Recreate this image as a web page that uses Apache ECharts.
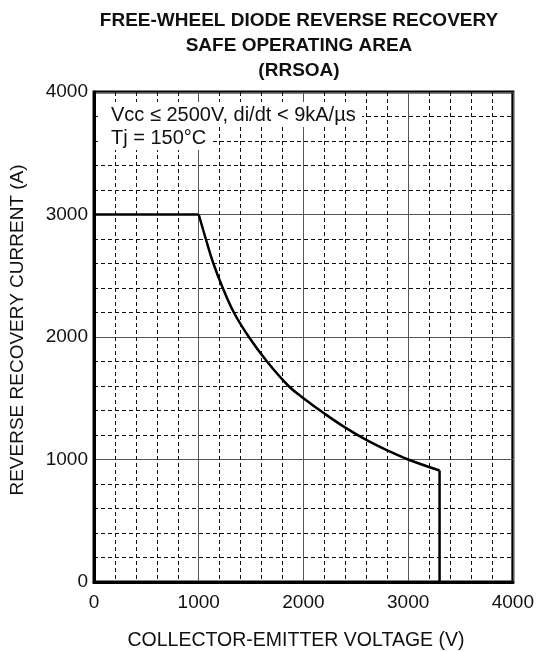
<!DOCTYPE html>
<html>
<head>
<meta charset="utf-8">
<script src="https://cdn.jsdelivr.net/npm/echarts@6/dist/echarts.min.js"></script>
<style>
  html, body { margin: 0; padding: 0; background: #fff; overflow: hidden; }
  #chart { width: 537px; height: 652px; }
</style>
</head>
<body>
<div id="chart"></div>
<script>
// Reverse recovery SOA boundary: collector-emitter voltage (V) vs. reverse recovery current (A)
// Flat current limit segment
const flatVoltage = [0, 1000];
const flatCurrent = [3000, 3000];
// Power-limited curved segment
const curveVoltage = [1000, 1068, 1140, 1230, 1336, 1479, 1652, 1858, 2000, 2200, 2400, 2600, 2800, 3000, 3300];
const curveCurrent = [3000, 2800, 2600, 2400, 2200, 2000, 1800, 1600, 1500, 1375, 1260, 1160, 1075, 1000, 910];
// Voltage limit edge
const edgeVoltage = [3300, 3300];
const edgeCurrent = [910, 0];

const xTicks = [0, 1000, 2000, 3000, 4000];
const yTicks = [0, 1000, 2000, 3000, 4000];

const font = '"Liberation Sans", Arial, Helvetica, sans-serif';

const chart = echarts.init(document.getElementById('chart'), null, { renderer: 'canvas' });

const axisCommon = {
  min: 0,
  max: 4000,
  interval: 1000,
  axisTick: { show: false },
  axisLine: { show: true, lineStyle: { color: '#000', width: 3 } },
  splitLine: { show: true, lineStyle: { color: '#555', width: 1, type: 'solid' } },
  minorTick: { show: false, splitNumber: 5 },
  minorSplitLine: { show: true, lineStyle: { color: '#111', width: 1, type: [4, 3] } },
  axisLabel: { fontFamily: font, fontSize: 19, color: '#111' }
};

const pairs = (xs, ys) => xs.map((v, i) => [v, ys[i]]);
const boundaryLine = { color: '#000', width: 2.5 };

chart.setOption({
  animation: false,
  backgroundColor: '#fff',
  title: {
    text: 'FREE-WHEEL DIODE REVERSE RECOVERY\nSAFE OPERATING AREA\n(RRSOA)',
    left: 294,
    top: 3,
    textAlign: 'center',
    textStyle: { fontFamily: font, fontSize: 19, fontWeight: 'bold', color: '#111', lineHeight: 25 }
  },
  grid: {
    left: 94, right: 21, top: 92, bottom: 70,
    show: true, borderColor: '#000', borderWidth: 3, backgroundColor: 'transparent'
  },
  xAxis: Object.assign({}, axisCommon, {
    type: 'value',
    axisLabel: Object.assign({}, axisCommon.axisLabel, {
      margin: 11,
      formatter: v => xTicks.includes(v) ? String(v) : ''
    })
  }),
  yAxis: Object.assign({}, axisCommon, {
    type: 'value',
    axisLabel: Object.assign({}, axisCommon.axisLabel, {
      margin: 6,
      formatter: v => yTicks.includes(v) ? String(v) : ''
    })
  }),
  series: [
    { type: 'line', data: pairs(flatVoltage, flatCurrent), symbol: 'none', lineStyle: boundaryLine, z: 5 },
    { type: 'line', data: pairs(curveVoltage, curveCurrent), symbol: 'none', smooth: 0.4, lineStyle: boundaryLine, z: 5 },
    { type: 'line', data: pairs(edgeVoltage, edgeCurrent), symbol: 'none', lineStyle: boundaryLine, z: 5 }
  ],
  graphic: [
    // white panels behind the condition notes
    { type: 'rect', shape: { x: 99, y: 102, width: 263, height: 25 }, style: { fill: '#fff' }, z: 9 },
    { type: 'rect', shape: { x: 99, y: 127, width: 114, height: 23 }, style: { fill: '#fff' }, z: 9 },
    {
      type: 'text', x: 111, y: 115, z: 10,
      style: {
        text: 'Vcc ≤ 2500V, di/dt < 9kA/µs',
        fontFamily: font, fontSize: 20, fill: '#111', verticalAlign: 'middle'
      }
    },
    {
      type: 'text', x: 111, y: 138, z: 10,
      style: {
        text: 'Tj = 150°C',
        fontFamily: font, fontSize: 20, fill: '#111', verticalAlign: 'middle'
      }
    },
    // axis titles
    {
      type: 'text', x: 18, y: 330, rotation: Math.PI / 2, z: 10,
      style: {
        text: 'REVERSE RECOVERY CURRENT (A)',
        fontFamily: font, fontSize: 19, fill: '#111', align: 'center', verticalAlign: 'middle'
      }
    },
    {
      type: 'text', x: 296, y: 641, z: 10,
      style: {
        text: 'COLLECTOR-EMITTER VOLTAGE (V)',
        fontFamily: font, fontSize: 19.5, fill: '#111', align: 'center', verticalAlign: 'middle'
      }
    }
  ]
});
</script>
</body>
</html>
